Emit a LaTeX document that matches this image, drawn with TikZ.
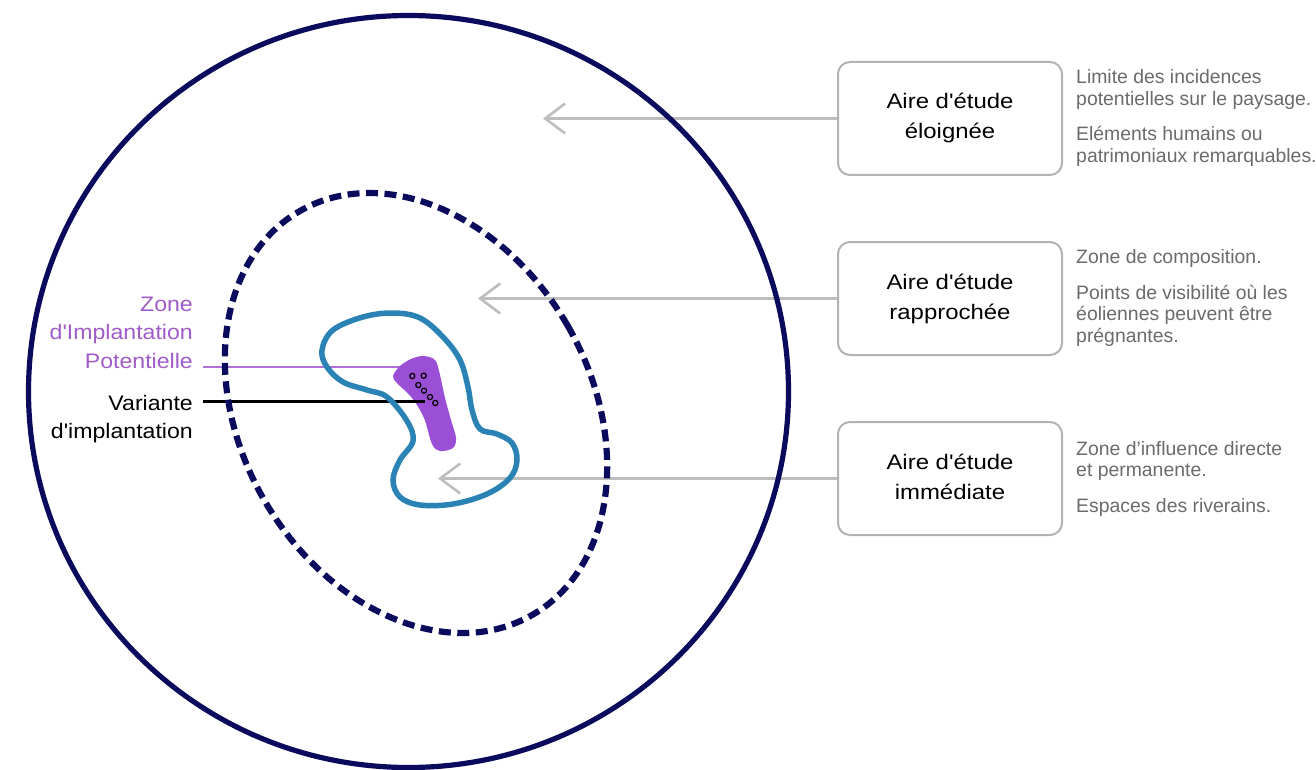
\documentclass[tikz,border=0pt]{standalone}
\usepackage{fontspec}
\setmainfont{Liberation Sans}
\newfontfamily\boxfont[FakeStretch=1.14]{Liberation Sans}
\newfontfamily\lblfont[FakeStretch=1.1]{Liberation Sans}
\usetikzlibrary{arrows.meta}
\definecolor{navy}{HTML}{0B0B5E}
\definecolor{blobblue}{HTML}{2B82B5}
\definecolor{zipfill}{HTML}{9B4FD6}
\definecolor{zipline}{HTML}{B070D8}
\definecolor{ziptext}{HTML}{A05CC8}
\definecolor{boxgray}{HTML}{B3B3B3}
\definecolor{arrgray}{HTML}{BDBDBD}
\definecolor{rgray}{HTML}{6B6B6B}
\tikzset{
  areabox/.style={draw=boxgray, line width=2pt, rounded corners=12pt, minimum width=224pt, minimum height=113pt, inner sep=0pt, fill=white},
  boxtxt/.style={anchor=base, inner sep=0pt, font=\boxfont\fontsize{21}{29.5}\selectfont, text=black},
  rtxt/.style={anchor=base west, inner sep=0pt, font=\fontsize{19.4}{21.8}\selectfont, text=rgray},
  lbl/.style={anchor=base east, inner sep=0pt, font=\lblfont\fontsize{21}{28.2}\selectfont},
  arr/.style={draw=arrgray, line width=2.6pt, -{Straight Barb[length=20pt,width=30pt]}},
  pline/.style={draw=zipline, line width=2pt},
  bline/.style={draw=black, line width=2.4pt},
  turbine/.style={draw=black, line width=1.2pt},
}
\begin{document}
\begin{tikzpicture}[x=1pt,y=-1pt]
\useasboundingbox[fill=white] (0,0) rectangle (1316,770);
% boxes
\node[areabox] (b1) at (950,118.5) {};
\node[areabox] (b2) at (950,298.5) {};
\node[areabox] (b3) at (950,478.5) {};
\node[boxtxt] (t1) at (950,108.8) {\parbox[t]{210pt}{\centering Aire d'étude\\éloignée}};
\node[boxtxt] (t2) at (950,289.5) {\parbox[t]{210pt}{\centering Aire d'étude\\rapprochée}};
\node[boxtxt] (t3) at (950,469.5) {\parbox[t]{210pt}{\centering Aire d'étude\\immédiate}};
% right texts
\node[rtxt] (r1a) at (1076,83.3) {\parbox[t]{300pt}{\raggedright Limite des incidences\\potentielles sur le paysage.}};
\node[rtxt] (r1b) at (1076,141) {\parbox[t]{300pt}{\raggedright Eléments humains ou\\patrimoniaux remarquables.}};
\node[rtxt] (r2a) at (1076,263) {\parbox[t]{300pt}{\raggedright Zone de composition.}};
\node[rtxt] (r2b) at (1076,299) {\parbox[t]{300pt}{\raggedright Points de visibilité où les\\éoliennes peuvent être\\prégnantes.}};
\node[rtxt] (r3a) at (1076,455) {\parbox[t]{300pt}{\raggedright Zone d'influence directe\\et permanente.}};
\node[rtxt] (r3b) at (1076,512) {\parbox[t]{300pt}{\raggedright Espaces des riverains.}};
% arrows
\coordinate (tip1) at (543,118.5);
\coordinate (tip2) at (478,298.5);
\coordinate (tip3) at (438,478.5);
\draw[arr] (b1.west) -- (tip1);
\draw[arr] (b2.west) -- (tip2);
\draw[arr] (b3.west) -- (tip3);
% left labels
\node[lbl, text=ziptext] (zip) at (193,311.7) {\parbox[t]{220pt}{\raggedleft Zone\\d'Implantation\\Potentielle}};
\node[lbl, text=black] (var) at (193,410) {\parbox[t]{220pt}{\raggedleft Variante\\d'implantation}};
\coordinate (zipL) at (203,367);
\coordinate (zipR) at (400,367);
\coordinate (varL) at (203,401.5);
\coordinate (varR) at (425,401.5);
\draw[pline] (zipL) -- (zipR);
% purple zone
\fill[zipfill] plot[smooth cycle, tension=0.55] coordinates {
 (393,376) (400,366) (411,359) (423,356) (435,360) (440,375) (445,398) (451,420) (456,438) (453,448) (440,451) (432,444) (424,418) (412,398) (397,383)};
\draw[bline] (varL) -- (varR);
% blob
\draw[blobblue, line width=5.5pt] plot[smooth cycle, tension=0.6] coordinates {
 (322,350) (333,330) (363,317) (393,313) (420,318) (443,337) (460,360) (468,387) (472,410) (480,429) (497,434) (512,443) (517,460) (510,478) (487,494) (453,504) (420,505) (400,497) (393,480) (400,460) (413,441) (407,421) (387,397) (367,390) (343,382) (327,367)};
% turbines
\foreach \p [count=\i] in {(412.3,376),(423.7,375.7),(418.3,385),(424,390.7),(430,397),(435.3,403)}
  \draw[turbine] \p circle[radius=2.6];
% dashed ellipse
\draw[navy, line width=6.2pt, dash pattern=on 12pt off 6.5pt, rotate around={30:(416,413)}] (416,413) ellipse[x radius=175, y radius=233];
% outer circle
\draw[navy, line width=5.2pt] (408.5,391.5) ellipse[x radius=380, y radius=376];
\end{tikzpicture}
\end{document}
